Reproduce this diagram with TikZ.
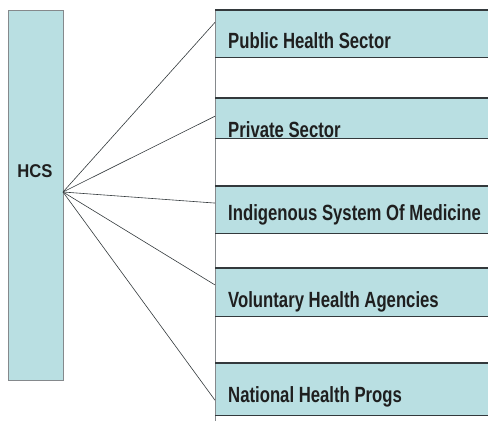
\documentclass[tikz,border=0pt]{standalone}
\usepackage{fontspec}
\usepackage{tikz}
\usetikzlibrary{positioning,calc}
\newfontfamily\boxfont{Liberation Sans}[FakeStretch=0.76]
\newfontfamily\hcsfont{Liberation Sans}[FakeStretch=0.9]
\definecolor{paleteal}{HTML}{B9DFE2}
\definecolor{edgegrey}{HTML}{33393C}
\definecolor{railgrey}{HTML}{85898C}
\tikzset{
  sector/.style={rectangle, fill=paleteal, draw=none, minimum width=273pt,
                 minimum height=#1, inner sep=0pt, anchor=north west},
  sectortxt/.style={anchor=base west, inner sep=0pt, text=black!88,
                    font=\boxfont\bfseries\fontsize{22}{24}\selectfont},
  edge/.style={draw=edgegrey, line width=1.2pt},
  spoke/.style={draw=edgegrey, line width=0.6pt},
}

\begin{document}
\begin{tikzpicture}[x=1pt, y=-1pt]
  \useasboundingbox (0,0) rectangle (488,421);

  \node[rectangle, fill=paleteal, draw=railgrey, line width=0.7pt, inner sep=0pt,
        minimum width=55pt, minimum height=370pt, anchor=north west] (hcs) at (8,10) {};
  \node[anchor=base, inner sep=0pt, text=black!88,
        font=\hcsfont\bfseries\fontsize{18.5}{20}\selectfont] (hcslbl) at (35,177) {HCS};
  \coordinate (fan) at (63,192);

  \node[sector=47pt] (pub) at (215,10) {};
  \node[sector=40pt] (priv) at (215,98) {};
  \node[sector=47pt] (ism) at (215,186) {};
  \node[sector=48pt] (vha) at (215,268) {};
  \node[sector=52pt] (nhp) at (215,363) {};

  \node[sectortxt] (publbl) at (228,48) {Public Health Sector};
  \node[sectortxt] (privlbl) at (228,137) {Private Sector};
  \node[sectortxt] (ismlbl) at (228,220) {Indigenous System Of Medicine};
  \node[sectortxt] (vhalbl) at (228,307) {Voluntary Health Agencies};
  \node[sectortxt] (nhplbl) at (228,402) {National Health Progs};

  % rails
  \coordinate (railend) at (215,421);
  \draw[railgrey, line width=1pt] (pub.north west) -- (railend);
  \foreach \s in {pub,priv,ism,vha,nhp} {
    \draw[edge] (\s.north west) -- (\s.north east);
    \draw[edge] (\s.south west) -- (\s.south east);
  }

  % spokes
  \draw[spoke] (fan) -- ($(pub.north west)!0.26!(pub.south west)$);
  \draw[spoke] (fan) -- ($(priv.north west)!0.45!(priv.south west)$);
  \draw[spoke] (fan) -- ($(ism.north west)!0.36!(ism.south west)$);
  \draw[spoke] (fan) -- ($(vha.north west)!0.35!(vha.south west)$);
  \draw[spoke] (fan) -- ($(nhp.north west)!0.71!(nhp.south west)$);
\end{tikzpicture}
\end{document}
